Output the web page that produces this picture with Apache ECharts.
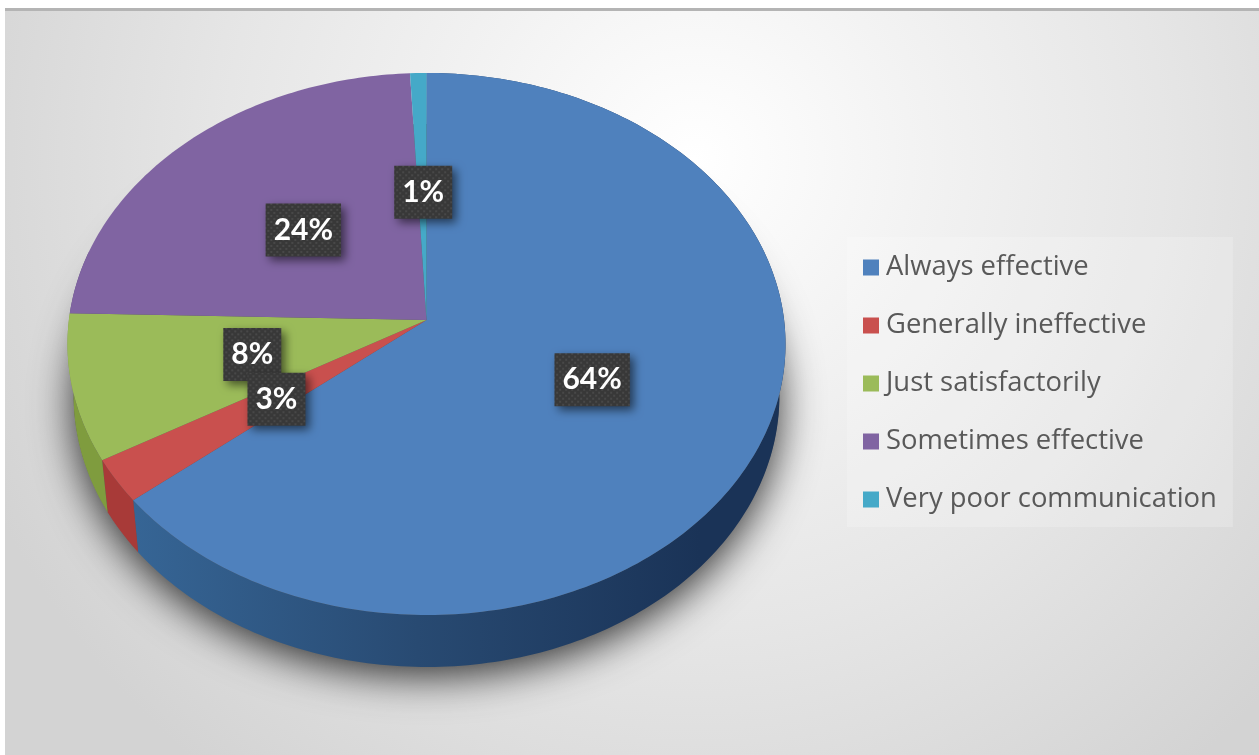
<!DOCTYPE html>
<html><head><meta charset="utf-8">
<style>html,body{margin:0;padding:0;background:#fff}#c{width:1259px;height:755px}</style>
<script src="https://cdn.jsdelivr.net/npm/echarts@6/dist/echarts.min.js"></script>
</head><body><div id="c"></div>
<script>
const categories = ['Always effective','Generally ineffective','Just satisfactorily','Sometimes effective','Very poor communication'];
const shares = [64.1, 2.6, 8.7, 23.8, 0.8];
const shareLabels = ['64%','3%','8%','24%','1%'];
const topColors = ['#4f81bd','#c9504e','#9bbb59','#8064a2','#45a9c8'];

// Tilted-disc projection of the pie (perspective view of a circle)
const view = {cx:426.5, cy:320, a:357.6, b:268.9, k:0.0885, depth:52, shrink:0.983};
function project(deg, r, low){
  const t = deg*Math.PI/180, u = Math.sin(t)*r, v = -Math.cos(t)*r;
  const d = 1 - view.k*v, s = low ? view.shrink : 1;
  return [view.cx + view.a*s*u/d, view.cy + (low?view.depth:0) + view.b*v/d];
}
const total = shares.reduce((a,b)=>a+b,0);
function span(i){
  let acc = 0; for(let j=0;j<i;j++) acc += shares[j];
  return [acc/total*360, (acc+shares[i])/total*360];
}
function arc(a0,a1,low){
  const pts=[]; const n=Math.max(2,Math.ceil(a1-a0));
  for(let i=0;i<=n;i++) pts.push(project(a0+(a1-a0)*i/n,1,low));
  return pts;
}
const wallFill = [
  {type:'linear',x:135,y:0,x2:700,y2:0,global:true,colorStops:[{offset:0,color:'#366595'},{offset:.5,color:'#284a72'},{offset:1,color:'#1a3357'}]},
  '#a83a38','#7f9c3e','#5e4a7c','#2f8098'
];
const tile=document.createElement('canvas');tile.width=6;tile.height=6;
(function(){const g=tile.getContext('2d');g.fillStyle='#383838';g.fillRect(0,0,6,6);
 g.fillStyle='#484848';g.fillRect(0,0,2,2);g.fillRect(3,3,2,2);})();
const labelFont='bold 30px Lato';
const mctx=document.createElement('canvas').getContext('2d');mctx.font=labelFont;

const series=[];
series.push({type:'custom',name:'shadow',coordinateSystem:'none',z:2,silent:true,data:[0],
  renderItem(){
    const pts=[];for(let d=0;d<360;d+=3){const p=project(d,1,true);pts.push([p[0],p[1]-1]);}
    return {type:'polygon',shape:{points:pts},style:{fill:'#555',shadowBlur:42,shadowColor:'rgba(0,0,0,0.8)',shadowOffsetX:0,shadowOffsetY:10}};
  }});
series.push({type:'custom',name:'wall',coordinateSystem:'none',z:3,silent:true,data:shares,
  renderItem(p){
    const [a0,a1]=span(p.dataIndex);
    if(a0>=285) return {type:'group',children:[]};
    const up=arc(a0,Math.min(a1,285),false), lo=arc(a0,Math.min(a1,285),true).reverse();
    return {type:'polygon',shape:{points:up.concat(lo)},style:{fill:wallFill[p.dataIndex]}};
  }});
categories.forEach((name,i)=>{
  series.push({type:'custom',name,coordinateSystem:'none',z:4,silent:true,data:[shares[i]],itemStyle:{color:topColors[i]},
    renderItem(){
      const [a0,a1]=span(i);
      return {type:'polygon',shape:{points:[[view.cx,view.cy]].concat(arc(a0,a1,false))},style:{fill:topColors[i]}};
    }});
});
series.push({type:'custom',name:'labels',coordinateSystem:'none',z:6,silent:true,data:shares,
  renderItem(p){
    const i=p.dataIndex,[a0,a1]=span(i),c=project((a0+a1)/2,0.5,false),txt=shareLabels[i];
    const w=mctx.measureText(txt).width+16,h=53;
    return {type:'group',x:c[0]+1,y:c[1]+1,children:[
      {type:'rect',z2:i===1?5:1,shape:{x:-w/2,y:-h/2,width:w,height:h},style:{fill:{image:tile,repeat:'repeat'},shadowBlur:10,shadowColor:'rgba(0,0,0,0.55)',shadowOffsetX:4,shadowOffsetY:4}},
      {type:'text',z2:i===1?6:2,style:{x:0,y:0,text:txt,fill:'#fff',font:labelFont,align:'center',verticalAlign:'middle'}}
    ]};
  }});

const chart=echarts.init(document.getElementById('c'),null,{renderer:'canvas'});
chart.setOption({
  animation:false,
  backgroundColor:'#fff',
  graphic:[
    {type:'rect',z:0,silent:true,shape:{x:5,y:10,width:1254,height:745},
     style:{fill:{type:'radial',x:0.55,y:0.2,r:1.05,colorStops:[{offset:0,color:'#ffffff'},{offset:.3,color:'#f2f2f2'},{offset:.6,color:'#e6e6e6'},{offset:1,color:'#d3d3d3'}]}}},
    {type:'rect',z:0,silent:true,shape:{x:5,y:8,width:1254,height:3},style:{fill:'#b4b4b4'}}
  ],
  legend:{
    data:categories,orient:'vertical',left:847,top:237,icon:'rect',
    itemWidth:16,itemHeight:16,itemGap:31,
    padding:[17,16,14,16],
    backgroundColor:'rgba(255,255,255,0.2)',
    selectedMode:false,
    textStyle:{fontFamily:'Open Sans',fontSize:27.4,color:'#595959',padding:[0,0,0,2]}
  },
  series
});
</script></body></html>
